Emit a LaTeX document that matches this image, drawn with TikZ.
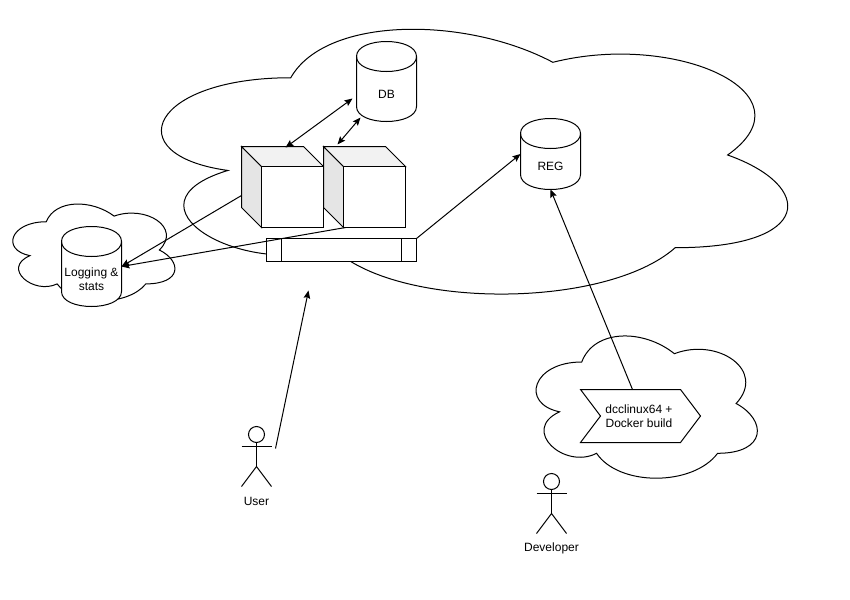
\documentclass[tikz,border=0pt]{standalone}
\usepackage{fontspec}
\setmainfont{Liberation Sans}
\usetikzlibrary{arrows.meta}

\def\px{0.75pt} % one pixel of the reference

\tikzset{
  line/.style={draw=black, line width=\px},
  filled/.style={line, fill=white},
  lbl/.style={align=center, font=\fontsize{9pt}{10.5pt}\selectfont, inner sep=0pt},
  ghost/.style={inner sep=0pt, outer sep=0pt, minimum width=#1},
  link/.style={line, -{Stealth[length=6pt, width=5pt, inset=1pt]}},
  twoway/.style={line, {Stealth[length=6pt, width=5pt, inset=1pt]}-{Stealth[length=6pt, width=5pt, inset=1pt]}}
}

% cloud: x, y, width, height
\newcommand{\cloudpath}[4]{
  \begin{scope}[shift={(#1,#2)}, x=#3*\px, y=-#4*\px]
  \draw[filled] (0.25,0.25) .. controls (0.05,0.25) and (0,0.5) .. (0.16,0.55)
    .. controls (0,0.66) and (0.18,0.9) .. (0.31,0.8)
    .. controls (0.4,1) and (0.7,1) .. (0.8,0.8)
    .. controls (1,0.8) and (1,0.6) .. (0.875,0.5)
    .. controls (1,0.3) and (0.8,0.1) .. (0.625,0.2)
    .. controls (0.5,0.05) and (0.3,0.05) .. (0.25,0.25) -- cycle;
  \end{scope}
}

% cylinder: name, x, y, height, text
\newcommand{\cyl}[5]{
  \draw[filled] (#2,#3+15) .. controls (#2,#3-5) and (#2+60,#3-5) .. (#2+60,#3+15)
    -- (#2+60,#3+#4-15) .. controls (#2+60,#3+#4+5) and (#2,#3+#4+5) .. (#2,#3+#4-15) -- cycle;
  \draw[line] (#2,#3+15) .. controls (#2,#3+35) and (#2+60,#3+35) .. (#2+60,#3+15);
  \node[ghost=60*\px, minimum height=#4*\px] (#1) at (#2+30,#3+#4/2) {};
  \node[lbl] (#1text) at (#2+30,#3+#4/2+12.5) {#5};
}

% cube: name, x
\newcommand{\cube}[2]{
  \draw[filled, fill=black!10] (#2,146) -- (#2+20,166) -- (#2+20,227) -- (#2,207) -- cycle;
  \draw[filled, fill=black!5] (#2,146) -- (#2+62,146) -- (#2+82,166) -- (#2+20,166) -- cycle;
  \draw[filled] (#2+20,166) rectangle (#2+82,227);
  \node[ghost=82*\px, minimum height=81*\px] (#1) at (#2+41,186.5) {};
}

% actor: name, x of the axis, y of the head top, text
\newcommand{\actor}[4]{
  \draw[line] (#2,#3+8) circle (8);
  \draw[line] (#2,#3+16) -- (#2,#3+40);
  \draw[line] (#2-15,#3+20) -- (#2+15,#3+20);
  \draw[line] (#2-15,#3+60) -- (#2,#3+40) -- (#2+15,#3+60);
  \node[ghost=30*\px, minimum height=60*\px] (#1) at (#2,#3+30) {};
  \node[lbl] (#1text) at (#2,#3+74.5) {#4};
}

\begin{document}
\begin{tikzpicture}[x=\px, y=-\px]
\useasboundingbox[fill=white] (-0.5,-0.5) rectangle (849.5,599.5);

% Clouds
\cloudpath{115.5}{0}{699}{309}
\cloudpath{0.5}{193}{181}{113}
\cloudpath{519.5}{320}{247}{166}

% Storage
\cyl{db}{356}{41}{80}{DB}
\cyl{reg}{520}{118}{71}{REG}
\cyl{logs}{61}{226}{80}{Logging \&\\stats}

% Containers
\cube{boxa}{241}
\cube{boxb}{323}

% Proxy bar
\node[filled, minimum width=150*\px, minimum height=23*\px, inner sep=0pt, outer sep=0pt] (proxy) at (341,249.5) {};
\draw[line] (281,238) -- (281,261);
\draw[line] (401,238) -- (401,261);

% Build step
\draw[filled] (580,389) -- (680,389) -- (700,415.5) -- (680,442) -- (580,442) -- (600,415.5) -- cycle;
\node[ghost=120*\px, minimum height=53*\px] (build) at (640,415.5) {};
\node[lbl] (buildtext) at (638.5,415.5) {dcclinux64 +\\Docker build};

% People
\actor{user}{256}{426}{User}
\actor{dev}{551}{473}{Developer}

% Free ends
\coordinate (dbleft) at (352,98);
\coordinate (dbbase) at (360,117);
\coordinate (boxbtop) at (337,144);
\coordinate (boxaside) at (241,195);
\coordinate (boxbbase) at (345,227);
\coordinate (buildtop) at (632,389);
\coordinate (userhand) at (275,448);
\coordinate (entry) at (308,290);

% Arrows
\draw[twoway] (boxa.north) ++(3,1) -- (dbleft);
\draw[twoway] (boxbtop) -- (dbbase);
\draw[link] (boxaside) -- (logs.east);
\draw[link] (boxbbase) -- (logs.east);
\draw[link] (proxy.north east) -- (reg.west);
\draw[link] (buildtop) -- (reg.south);
\draw[link] (userhand) -- (entry);
\end{tikzpicture}
\end{document}
